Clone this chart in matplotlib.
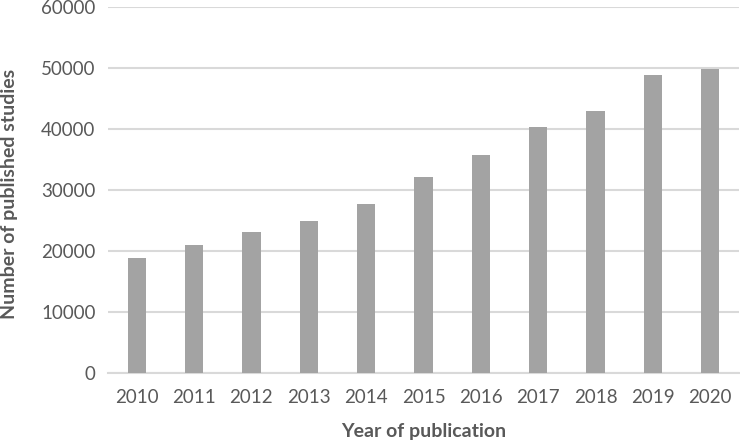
import matplotlib
matplotlib.use("Agg")
import matplotlib.pyplot as plt

years = ["2010", "2011", "2012", "2013", "2014", "2015", "2016", "2017", "2018", "2019", "2020"]
studies = [18800, 21000, 23100, 24850, 27600, 32100, 35750, 40300, 43000, 48800, 49900]
y_ticks = [0, 10000, 20000, 30000, 40000, 50000, 60000]

plt.rcParams['font.family'] = ['Lato', 'DejaVu Sans']
fig = plt.figure(figsize=(7.4, 4.41), dpi=100)
ax = fig.add_axes([108/740, (441-372.7)/441, (739-108)/740, (372.7-7)/441])

x = range(len(years))
ax.bar(x, studies, width=0.32, color='#a3a3a3', zorder=3)
ax.set_xlim(-0.5, len(years)-0.5)
ax.set_ylim(0, 60000)
ax.set_yticks(y_ticks)
ax.set_yticklabels([str(v) for v in y_ticks])
ax.set_xticks(list(x))
ax.set_xticklabels(years)
ax.yaxis.grid(True, color='#d9d9d9', linewidth=1.5, zorder=0)
for s in ['top', 'right', 'left']:
    ax.spines[s].set_visible(False)
ax.spines['bottom'].set_color('#d9d9d9')
ax.spines['bottom'].set_linewidth(1.5)
ax.tick_params(axis='both', length=0, labelsize=13.5, colors='#595959')
ax.tick_params(axis='y', pad=9)
ax.tick_params(axis='x', pad=12)
ax.set_xlabel('Year of publication', fontsize=14, fontweight='bold', color='#595959', labelpad=12)
ax.set_ylabel('Number of published studies', fontsize=14, fontweight='bold', color='#595959')
ax.yaxis.set_label_coords(-0.142, 0.49)
fig.savefig('out.png', dpi=100)
